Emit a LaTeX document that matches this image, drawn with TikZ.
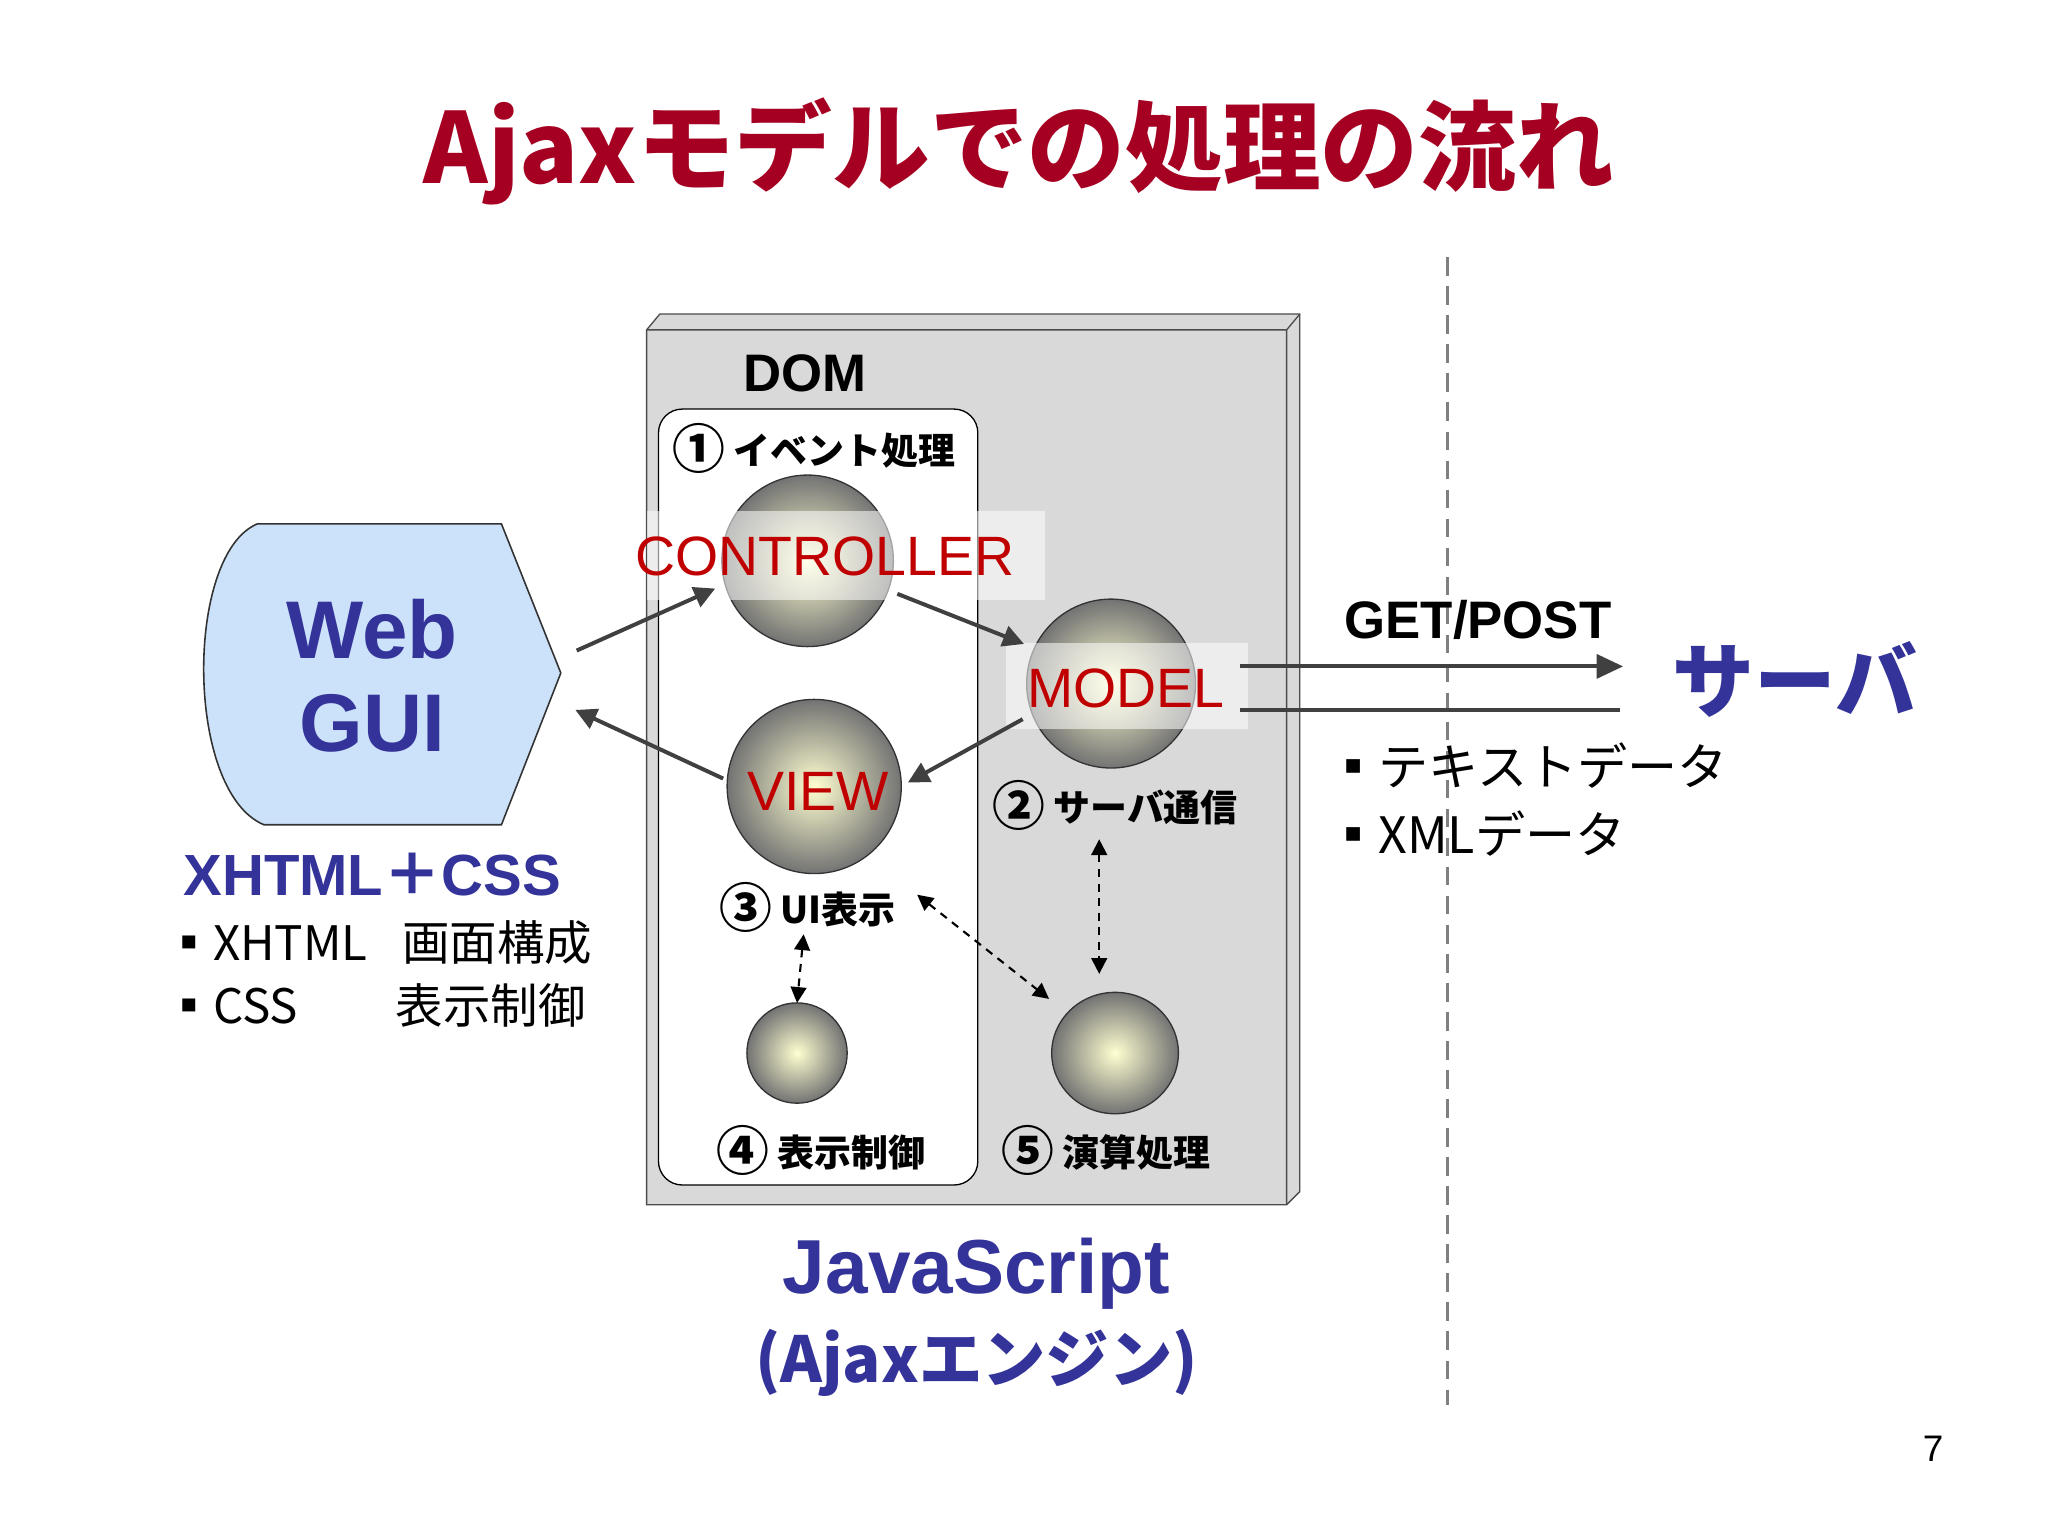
\documentclass[tikz,border=0pt]{standalone}
\usepackage{fontspec}
\setmainfont{Noto Sans CJK JP}
\newfontfamily\arl{Liberation Sans}
\usetikzlibrary{arrows.meta}
\definecolor{ttl}{HTML}{A50021}
\definecolor{lred}{HTML}{C00000}
\definecolor{blu}{HTML}{333399}
\definecolor{ar}{HTML}{404040}
\definecolor{gui}{HTML}{CCE2FA}
\newcommand{\fs}[1]{\fontsize{#1}{#1}\selectfont}
\newcommand{\cn}[1]{{\fs{40}\raisebox{-3pt}{#1}}}
\begin{document}
\begin{tikzpicture}[x=1pt,y=-1pt,
  sph/.style={draw=black!80,line width=1pt,inner color=yellow!18,outer color=black!55},
  arr/.style={draw=ar,line width=3pt,-{Triangle[length=16pt,width=16pt]}},
  darr/.style={draw=black,line width=1.6pt,dash pattern=on 6pt off 5pt,{Triangle[length=12pt,width=12pt]}-{Triangle[length=12pt,width=12pt]}},
  lbl/.style={text=lred,font=\arl\fs{42}},
  lblbox/.style={fill=white,fill opacity=0.55,draw=none},
  txt/.style={font=\bfseries\fs{28},text=black}]
\useasboundingbox (0,0) rectangle (1552,1164);
\fill[white] (0,0) rectangle (1552,1164);
% title
\node[text=ttl,font=\bfseries\fs{74}] (title) at (772,115) {Ajaxモデルでの処理の流れ};
% dashed separator
\draw[gray,line width=2pt,dash pattern=on 14pt off 8pt] (1097,195) -- (1097,1065);
% DOM box
\draw[black!70,fill=black!15,line width=1pt] (490,250) -- (500,238) -- (985,238) -- (985,903) -- (975,913) -- (490,913) -- cycle;
\draw[black!70,line width=1pt] (490,250) -- (975,250) -- (975,913) (975,250) -- (985,238);
\node[font=\arl\bfseries\fs{40}] (dom) at (610,283) {DOM};
\draw[black,fill=white,line width=1pt,rounded corners=18pt] (499,310) rectangle (741,898);
\node[txt] (t1) at (617,340) {\cn{①} イベント処理};
% spheres
\shade[sph] (612,425) circle (65);
\shade[sph] (842,518) circle (64);
\shade[sph] (617,596) circle (66);
\shade[sph] (604,798) circle (38);
\shade[sph] (845,798) ellipse (48 and 46);
\node[lblbox,minimum width=302,minimum height=67] (cb) at (641,421) {};
\node[lblbox,minimum width=184,minimum height=65] (mb) at (854,520) {};
\node[lbl] (ctrl) at (625,422) {CONTROLLER};
\node[lbl] (model) at (853,522) {MODEL};
\node[lbl] (view) at (620,600) {VIEW};
% Web GUI
\draw[black!80,fill=gui,line width=1.2pt] (195,397) -- (380,397) -- (425,510) -- (380,625) -- (200,625) .. controls (140,600) and (140,420) .. (195,397) -- cycle;
\node[text=blu,font=\arl\bfseries\fs{62},align=center] (gui) at (282,512) {Web\\[8pt]GUI};
\node[text=blu,font=\arl\bfseries\fs{44}] (xc) at (282,663) {XHTML{\rmfamily ＋}CSS};
\node[anchor=west,font=\fs{36}] (l1) at (122,714) {▪XHTML\hspace{26pt}画面構成};
\node[anchor=west,font=\fs{36}] (l2) at (122,762) {▪CSS\hspace{74pt}表示制御};
% arrows
\coordinate (a1) at (437,493); \coordinate (a2) at (542,446);
\coordinate (a3) at (680,450); \coordinate (a4) at (776,488);
\coordinate (a5) at (775,545); \coordinate (a6) at (688,593);
\coordinate (a7) at (548,590); \coordinate (a8) at (436,538);
\draw[arr] (a1) -- (a2);
\draw[arr] (a3) -- (a4);
\draw[arr] (a5) -- (a6);
\draw[arr] (a7) -- (a8);
\node[txt] (t2) at (845,610) {\cn{②} サーバ通信};
\node[txt] (t3) at (612,688) {\cn{③} UI表示};
\node[txt] (t4) at (622,872) {\cn{④} 表示制御};
\node[txt] (t5) at (838,872) {\cn{⑤} 演算処理};
\coordinate (d1) at (609,708); \coordinate (d2) at (604,760);
\coordinate (d3) at (695,678); \coordinate (d4) at (795,757);
\coordinate (d5) at (833,636); \coordinate (d6) at (833,738);
\draw[darr] (d1) -- (d2);
\draw[darr] (d3) -- (d4);
\draw[darr] (d5) -- (d6);
% server
\node[font=\arl\bfseries\fs{40}] (gp) at (1120,470) {GET/POST};
\coordinate (s1) at (940,505); \coordinate (s2) at (1230,505);
\coordinate (s3) at (940,538); \coordinate (s4) at (1228,538);
\draw[draw=ar,line width=3pt,-{Triangle[length=20pt,width=18pt]}] (s1) -- (s2);
\draw[draw=ar,line width=3pt] (s3) -- (s4);
\node[text=blu,font=\bfseries\fs{62}] (srv) at (1360,515) {サーバ};
\node[anchor=west,font=\fs{38}] (r1) at (1003,580) {▪テキストデータ};
\node[anchor=west,font=\fs{38}] (r2) at (1003,632) {▪XMLデータ};
% JavaScript
\node[text=blu,font=\arl\bfseries\fs{58}] (js) at (740,965) {JavaScript};
\node[text=blu,font=\bfseries\fs{48}] (ae) at (740,1033) {(Ajaxエンジン)};
\node[font=\arl\fs{28}] (pg) at (1465,1098) {7};
\end{tikzpicture}
\end{document}
